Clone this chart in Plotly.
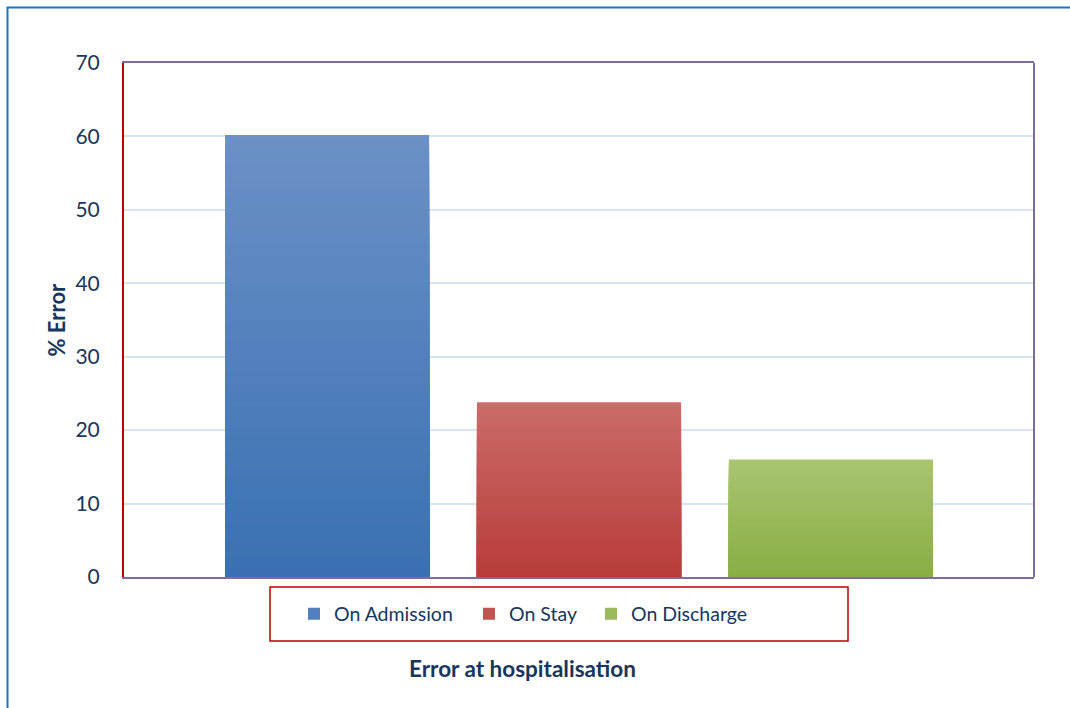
import plotly.graph_objects as go

# Share of errors by stage of hospitalisation (%)
categories = ["On Admission", "On Stay", "On Discharge"]
values = [60.2, 23.8, 16.0]
y_ticks = [0, 10, 20, 30, 40, 50, 60, 70]

# top / bottom colours of each bar's vertical gradient
top_colors = ["#6B91C7", "#CA6C69", "#A8C571"]
bottom_colors = ["#3A70B2", "#B83C3A", "#8AAD44"]

W, H = 1070, 708
L, R, T, B = 124, 36, 63, 131
PW, PH = W - L - R, H - T - B
TEXT = "#17365D"
FONT = "Lato"


def px_x(x):
    return (x - L) / PW


def px_y(y):
    return (H - B - y) / PH


def hex_to_rgb(h):
    h = h.lstrip("#")
    return tuple(int(h[i:i + 2], 16) for i in (0, 2, 4))


def lerp(c1, c2, f):
    a, b = hex_to_rgb(c1), hex_to_rgb(c2)
    return "rgb({},{},{})".format(*[round(a[k] + (b[k] - a[k]) * f) for k in range(3)])


fig = go.Figure()

N = 60  # gradient steps per bar
legend_ids = ["legend", "legend2", "legend3"]
for idx, (name, v) in enumerate(zip(categories, values)):
    for i in range(N):
        h = v * (N - i) / N
        col = lerp(top_colors[idx], bottom_colors[idx], (i + 0.5) / N)
        fig.add_trace(go.Bar(
            x=[idx], y=[h], base=0, width=0.81,
            marker=dict(color=col, line=dict(width=0)),
            opacity=1,
            name=name,
            legendgroup=name,
            legend=legend_ids[idx],
            showlegend=(i == N // 2),
            hovertemplate=f"{name}: {v}%<extra></extra>" if i == 0 else None,
            hoverinfo="skip" if i != 0 else None,
        ))

legend_common = dict(
    orientation="h", yanchor="middle", xanchor="left",
    y=px_y(614), bgcolor="rgba(0,0,0,0)", borderwidth=0,
    font=dict(family=FONT, size=19.5, color=TEXT),
    itemclick=False, itemdoubleclick=False,
)

shapes = [
    # outer chart frame (left and top edges visible)
    dict(type="rect", xref="paper", yref="paper",
         x0=px_x(7.5), x1=px_x(1085), y0=px_y(725), y1=px_y(7.5),
         line=dict(color="#1B74C3", width=2), layer="below"),
    # right border of plot area
    dict(type="line", xref="paper", yref="paper", x0=1, x1=1, y0=0, y1=1,
         line=dict(color="#7F6B9F", width=2)),
    # legend frame
    dict(type="rect", xref="paper", yref="paper",
         x0=px_x(270), x1=px_x(848), y0=px_y(641), y1=px_y(587),
         line=dict(color="#C00000", width=1.5)),
]

annotations = [
    dict(text="% Error", xref="paper", yref="paper", x=px_x(56), y=px_y(319.5),
         xanchor="center", yanchor="middle", textangle=-90, showarrow=False,
         font=dict(family=FONT, size=22, color=TEXT, weight="bold")),
    dict(text="Error at hospitalisation", xref="paper", yref="paper",
         x=px_x(522.5), y=px_y(668), xanchor="center", yanchor="middle",
         showarrow=False,
         font=dict(family=FONT, size=22.5, color=TEXT, weight="bold")),
]

fig.update_layout(
    width=W, height=H,
    margin=dict(l=L, r=R, t=T, b=B),
    paper_bgcolor="white", plot_bgcolor="white",
    barmode="overlay",
    showlegend=True,
    legend=dict(x=px_x(294), **legend_common),
    legend2=dict(x=px_x(469), **legend_common),
    legend3=dict(x=px_x(591), **legend_common),
    shapes=shapes,
    annotations=annotations,
    xaxis=dict(
        range=[-0.806, 2.806], showticklabels=False, ticks="",
        showgrid=False, zeroline=False, fixedrange=True,
        showline=True, linecolor="#7F6B9F", linewidth=2, mirror=True,
        layer="below traces",
    ),
    yaxis=dict(
        range=[0, 70], tickvals=y_ticks, ticks="",
        showgrid=True, gridcolor="#D8E4F3", gridwidth=2,
        zeroline=False, fixedrange=True,
        showline=True, linecolor="#C00000", linewidth=2,
        ticklabelstandoff=18,
        tickfont=dict(family=FONT, size=21, color=TEXT),
    ),
)

fig.write_html("out.html")
